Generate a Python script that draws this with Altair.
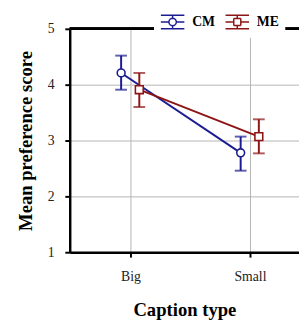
import math
import altair as alt
import pandas as pd

categories = ["Big", "Small"]
series = ["CM", "ME"]
means = {"CM": [4.21, 2.78], "ME": [3.91, 3.07]}
upper = {"CM": [4.52, 3.07], "ME": [4.21, 3.38]}
lower = {"CM": [3.91, 2.46], "ME": [3.60, 2.77]}
colors = ["#1c1c92", "#8e1515"]

rows = []
for s in series:
    for i, c in enumerate(categories):
        rows.append({"series": s, "caption": c, "mean": means[s][i],
                     "hi": upper[s][i], "lo": lower[s][i]})
df = pd.DataFrame(rows)

FONT = "Liberation Serif"
cat_expr = "indexof(" + str(categories).replace("'", '"') + ", datum.caption)"
label_expr = "[" + ",".join('"%s"' % c for c in categories) + "][datum.value]"

base = alt.Chart(df).transform_calculate(
    xpos=cat_expr + " + (datum.series == 'CM' ? -0.078 : 0.074)"
)

x = alt.X("xpos:Q", scale=alt.Scale(domain=[-0.508, 1.41], nice=False, zero=False),
          axis=alt.Axis(values=[0, 1], labelExpr=label_expr, title="Caption type",
                        grid=True, gridColor="#b4b4b4", gridWidth=1,
                        domainColor="black", domainWidth=2.5,
                        tickColor="black", tickWidth=2, tickSize=5,
                        labelFont=FONT, labelFontSize=14, labelColor="#222",
                        labelPadding=13, titleFont=FONT, titleFontSize=19,
                        titleFontWeight="bold", titlePadding=18, titleColor="black"))
y_axis = alt.Axis(values=[1, 2, 3, 4, 5], format="d", title="Mean preference score",
                  grid=True, gridColor="#b4b4b4", gridWidth=1,
                  domainColor="black", domainWidth=2.5,
                  tickColor="black", tickWidth=2, tickSize=5,
                  labelFont=FONT, labelFontSize=14, labelColor="#222",
                  labelPadding=11, titleFont=FONT, titleFontSize=19,
                  titleFontWeight="bold", titlePadding=12, titleColor="black")
yscale = alt.Scale(domain=[1, 5], nice=False, zero=False)

leg = alt.Legend(title=None, orient="none", legendX=86, legendY=-26,
                 direction="horizontal", fillColor="white", padding=6,
                 symbolSize=576, symbolStrokeWidth=1.5, symbolOpacity=1,
                 symbolFillColor="white",
                 labelFont=FONT, labelFontSize=14, labelFontWeight="bold",
                 labelColor="black", labelOffset=7, columnPadding=7)
cscale = alt.Scale(domain=series, range=colors)
color = alt.Color("series:N", scale=cscale, legend=None)

# legend glyphs built only from open line segments so that no fill can show
def segs(points):
    out = ""
    n = len(points)
    for k in range(n):
        a, b = points[k], points[(k + 1) % n]
        out += "M%.3f,%.3fL%.3f,%.3f" % (a[0], a[1], b[0], b[1])
    return out

r = 0.32
circle_pts = [(r * math.cos(2 * math.pi * k / 20), r * math.sin(2 * math.pi * k / 20)) for k in range(20)]
sq = 0.3
square_pts = [(-sq, -sq), (sq, -sq), (sq, sq), (-sq, sq)]
frame_cm = ("M-1,-0.58L1,-0.58M-1,0.58L1,0.58M-1,0L-%.2f,0M%.2f,0L1,0"
            "M0,-0.58L0,-%.2fM0,%.2fL0,0.58") % (r, r, r, r)
frame_me = ("M-1,-0.58L1,-0.58M-1,0.58L1,0.58M-1,0L-%.2f,0M%.2f,0L1,0"
            "M0,-0.58L0,-%.2fM0,%.2fL0,0.58") % (sq, sq, sq, sq)
path_cm = frame_cm + segs(circle_pts)
path_me = frame_me + segs(square_pts)

lines = base.mark_line(strokeWidth=2).encode(
    x=x, y=alt.Y("mean:Q", scale=yscale, axis=y_axis), color=color, detail="series:N")
bars = base.mark_rule(strokeWidth=2).encode(x=x, y="lo:Q", y2="hi:Q", color=color)
cap_hi = base.mark_tick(orient="horizontal", size=12, thickness=2).encode(x=x, y="hi:Q", color=color)
cap_lo = base.mark_tick(orient="horizontal", size=12, thickness=2).encode(x=x, y="lo:Q", color=color)
pts_cm = base.transform_filter("datum.series == 'CM'").mark_point(
    shape="circle", fill="white", fillOpacity=1, opacity=1, size=64, strokeWidth=1.6).encode(
    x=x, y="mean:Q", color=color)
pts_me = base.transform_filter("datum.series == 'ME'").mark_point(
    shape="square", fill="white", fillOpacity=1, opacity=1, size=64, strokeWidth=1.6).encode(
    x=x, y="mean:Q", color=color)
legend_layer = base.mark_point(opacity=0, filled=False, fill="white").encode(
    x=x, y="mean:Q",
    stroke=alt.Stroke("series:N", scale=cscale, legend=leg),
    shape=alt.Shape("series:N", scale=alt.Scale(domain=series, range=[path_cm, path_me]), legend=leg))
top = base.mark_rule(color="black", strokeWidth=2.5).encode(y=alt.datum(5))

chart = alt.layer(legend_layer, top, lines, bars, cap_hi, cap_lo, pts_cm, pts_me).properties(
    width=234, height=228,
    autosize=alt.AutoSizeParams(type="none"),
    padding={"left": 63, "top": 18, "right": 0, "bottom": 70},
).configure_view(stroke=None)

chart.save("out.html", embed_options={"renderer": "svg", "actions": False})
